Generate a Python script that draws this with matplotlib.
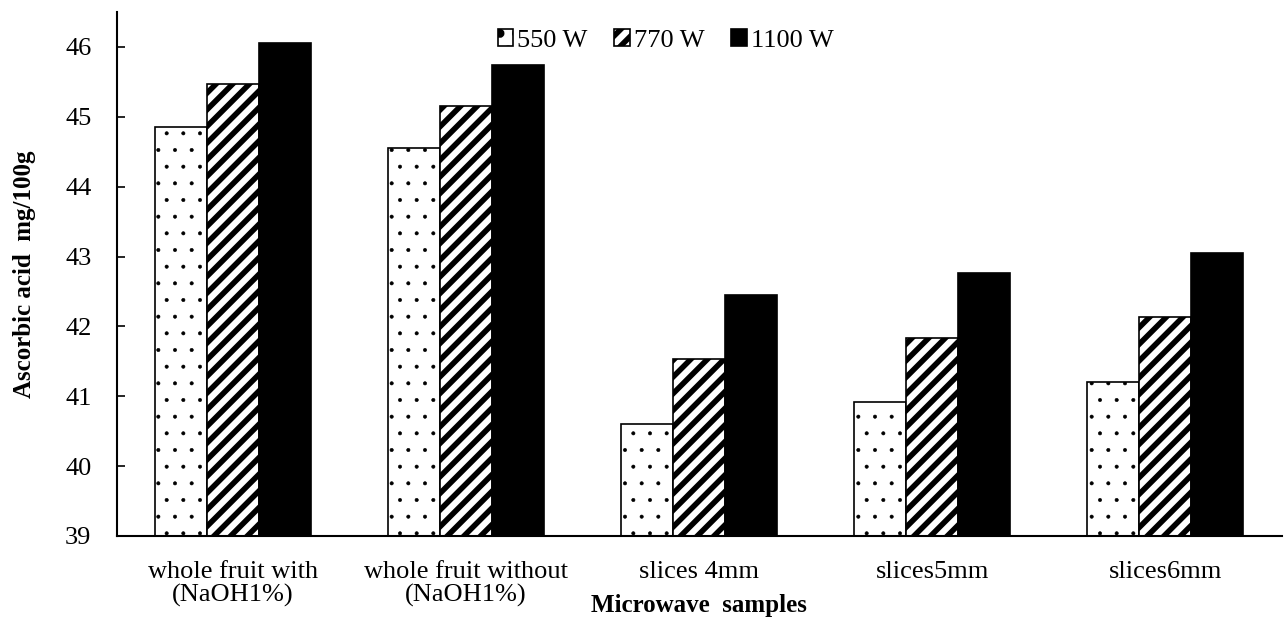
import numpy as np
import matplotlib
matplotlib.use("Agg")
import matplotlib.pyplot as plt

plt.rcParams['font.family'] = ['Liberation Serif', 'DejaVu Serif']

samples = ["whole fruit with\n(NaOH1%)", "whole fruit without\n(NaOH1%)",
           "slices 4mm", "slices5mm", "slices6mm"]
powers = ["550 W", "770 W", "1100 W"]
w550 = [44.85, 44.56, 40.60, 40.92, 41.21]
w770 = [45.47, 45.16, 41.53, 41.84, 42.13]
w1100 = [46.05, 45.74, 42.45, 42.76, 43.05]

fig = plt.figure(figsize=(12.86, 6.18), dpi=100)
ax = fig.add_axes([0.0906, 0.1327, 0.9063, 0.8479])

x = np.arange(len(samples))
bw = 0.223
base = 39

# dotted bars: thin hatch lines so the dots stay small
plt.rcParams['hatch.linewidth'] = 0.4
plt.rcParams['hatch.color'] = '#444444'
b1 = ax.bar(x - bw, np.array(w550) - base, bw, bottom=base, color='white',
            edgecolor='black', linewidth=1.2, hatch='.', label=powers[0])
for p in b1:
    if hasattr(p, 'set_hatch_linewidth'):
        p.set_hatch_linewidth(0.4)

plt.rcParams['hatch.linewidth'] = 4.0
plt.rcParams['hatch.color'] = 'black'
b2 = ax.bar(x, np.array(w770) - base, bw, bottom=base, color='white',
            edgecolor='black', linewidth=1.2, hatch='//', label=powers[1])
for p in b2:
    if hasattr(p, 'set_hatch_linewidth'):
        p.set_hatch_linewidth(4.0)
b3 = ax.bar(x + bw, np.array(w1100) - base, bw, bottom=base, color='black',
            edgecolor='black', linewidth=1.2, label=powers[2])

ax.set_xlim(-0.5, len(samples) - 0.5)
ax.set_ylim(39, 46.5)
ax.set_yticks(range(39, 47))
ax.set_xticks(x)
ax.set_xticklabels(samples, fontsize=19, linespacing=1.05)
ax.tick_params(axis='y', direction='in', length=6, width=1.2, labelsize=19, pad=18)
ax.tick_params(axis='x', length=0, pad=18)

for s in ['top', 'right']:
    ax.spines[s].set_visible(False)
ax.spines['left'].set_linewidth(1.5)
ax.spines['bottom'].set_linewidth(1.5)

ax.set_ylabel("Ascorbic acid  mg/100g", fontsize=18, fontweight='bold', labelpad=21)
ax.set_xlabel("Microwave  samples", fontsize=18, fontweight='bold', labelpad=-9)

ax.legend(loc='upper center', bbox_to_anchor=(0.471, 1.013), ncol=3, frameon=False,
          fontsize=19, handlelength=0.6, handleheight=0.6, handletextpad=0.15,
          columnspacing=1.0)

fig.savefig("out.png", dpi=100)
